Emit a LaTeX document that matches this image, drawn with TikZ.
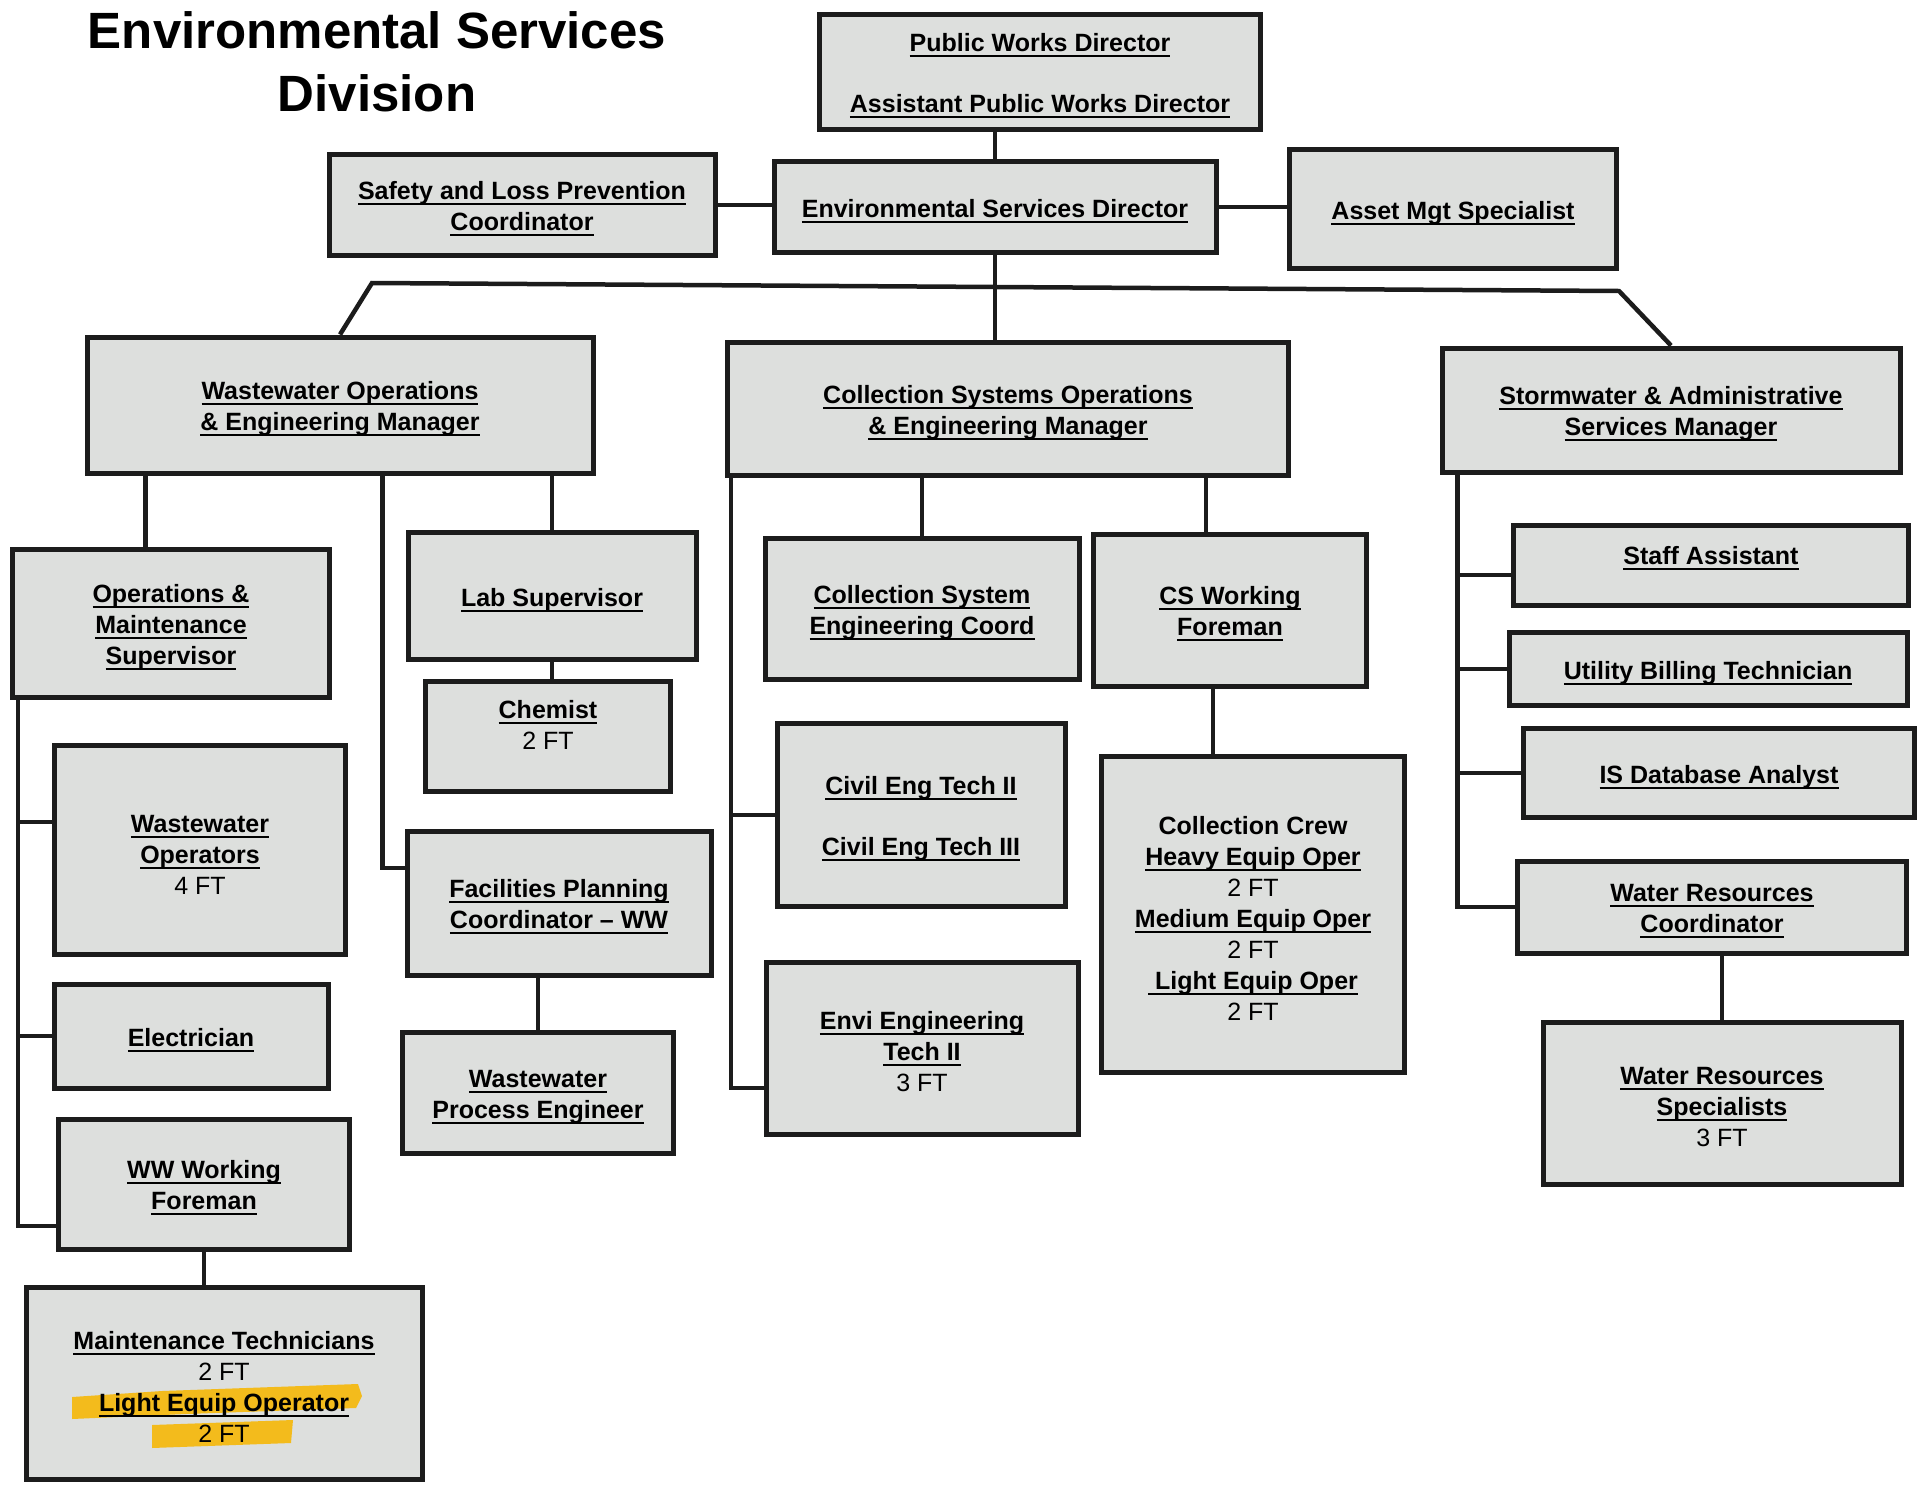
\documentclass[tikz,border=0pt]{standalone}
\usepackage{fontspec}
\setmainfont{Liberation Sans}
\usetikzlibrary{calc}

\definecolor{boxgray}{RGB}{221,223,221}
\definecolor{edge}{RGB}{28,28,28}
\definecolor{marker}{RGB}{243,187,28}

% underline at a fixed depth, as in the chart
\newcommand{\udl}[1]{\leavevmode\setbox0=\hbox{#1}\rlap{\rule[-5.5pt]{\wd0}{2pt}}\box0}
\newcommand{\ft}[1]{{\mdseries #1 FT}}
% taller first line, so the text sits a little low in its box
\newcommand{\fst}{\rule{0pt}{26pt}}

\tikzstyle{block} = [ draw=edge,fill=boxgray,line width=5pt,align=center,
                      inner sep=0pt,font=\fontsize{25}{31}\selectfont\bfseries]
\tikzstyle{link} = [draw=edge,line width=4.5pt]

\begin{document}
\begin{tikzpicture}[x=1pt,y=-1pt]
  \useasboundingbox (0,0) rectangle (1923,1486);

  \node[align=center,font=\fontsize{51}{63}\selectfont\bfseries] at (377,62) (title)
       {Environmental Services\\Division};

  % top level
  \node[block,minimum width=441pt,minimum height=115pt] at (1040,72) (pwd)
       {\fst\udl{Public Works Director}\\[30pt]\udl{Assistant Public Works Director}};
  \node[block,minimum width=386pt,minimum height=101pt] at (522,205) (safety)
       {\fst\udl{Safety and Loss Prevention}\\\udl{Coordinator}};
  \node[block,minimum width=442pt,minimum height=91pt] at (995,207) (esd)
       {\fst\udl{Environmental Services Director}};
  \node[block,minimum width=327pt,minimum height=119pt] at (1453,209) (asset)
       {\fst\udl{Asset Mgt Specialist}};

  % managers
  \node[block,minimum width=506pt,minimum height=136pt] at (340,405) (wwm)
       {\fst\udl{Wastewater Operations}\\\udl{\& Engineering Manager}};
  \node[block,minimum width=561pt,minimum height=133pt] at (1008,409) (csm)
       {\fst\udl{Collection Systems Operations}\\\udl{\& Engineering Manager}};
  \node[block,minimum width=458pt,minimum height=124pt] at (1671,410) (swm)
       {\fst\udl{Stormwater \& Administrative}\\\udl{Services Manager}};

  % wastewater
  \node[block,minimum width=317pt,minimum height=148pt] at (171,623) (oms)
       {\fst\udl{Operations \&}\\\udl{Maintenance}\\\udl{Supervisor}};
  \node[block,minimum width=288pt,minimum height=127pt] at (552,596) (lab)
       {\fst\udl{Lab Supervisor}};
  \node[block,minimum width=245pt,minimum height=110pt] at (548,736) (chem)
       {\fst\udl{Chemist}\\\ft{2}\\~};
  \node[block,minimum width=291pt,minimum height=209pt] at (200,850) (wwo)
       {\fst\udl{Wastewater}\\\udl{Operators}\\\ft{4}};
  \node[block,minimum width=304pt,minimum height=144pt] at (559,903) (fpc)
       {\fst\udl{Facilities Planning}\\\udl{Coordinator \textendash{} WW}};
  \node[block,minimum width=274pt,minimum height=104pt] at (191,1036) (elec)
       {\fst\udl{Electrician}};
  \node[block,minimum width=271pt,minimum height=121pt] at (538,1093) (wpe)
       {\fst\udl{Wastewater}\\\udl{Process Engineer}};
  \node[block,minimum width=291pt,minimum height=130pt] at (204,1184) (wwf)
       {\fst\udl{WW Working}\\\udl{Foreman}};
  \node[block,minimum width=396pt,minimum height=192pt,path picture={
         \fill[marker] ($(path picture bounding box.center)+(-152,14)$)
           -- ++(90,-6) -- ++(196,-7) -- ++(4,12) -- ++(-6,12)
           -- ++(-170,6) -- ++(-114,5) -- cycle;
         \fill[marker] ($(path picture bounding box.center)+(-72,42)$)
           -- ++(141,-5) -- ++(-2,23) -- ++(-139,5) -- cycle;}]
       at (224,1383) (mt)
       {\fst\udl{Maintenance Technicians}\\\ft{2}\\\udl{Light Equip Operator}\\\ft{2}};

  % collection systems
  \node[block,minimum width=314pt,minimum height=141pt] at (922,609) (cse)
       {\fst\udl{Collection System}\\\udl{Engineering Coord}};
  \node[block,minimum width=273pt,minimum height=152pt] at (1230,610) (csf)
       {\fst\udl{CS Working}\\\udl{Foreman}};
  \node[block,minimum width=288pt,minimum height=183pt] at (921,815) (cet)
       {\fst\udl{Civil Eng Tech II}\\[30pt]\udl{Civil Eng Tech III}};
  \node[block,minimum width=303pt,minimum height=316pt] at (1253,914) (crew)
       {\fst Collection Crew\\\udl{Heavy Equip Oper}\\\ft{2}\\\udl{Medium Equip Oper}\\\ft{2}\\
        \udl{~Light Equip Oper}\\\ft{2}};
  \node[block,minimum width=312pt,minimum height=172pt] at (922,1048) (envi)
       {\fst\udl{Envi Engineering}\\\udl{Tech II}\\\ft{3}};

  % stormwater
  \node[block,minimum width=395pt,minimum height=80pt] at (1711,565) (staff)
       {\fst\udl{Staff Assistant}\\[-4pt]~};
  \node[block,minimum width=398pt,minimum height=73pt] at (1708,669) (ubt)
       {\fst\udl{Utility Billing Technician}};
  \node[block,minimum width=391pt,minimum height=89pt] at (1719,773) (isd)
       {\fst\udl{IS Database Analyst}};
  \node[block,minimum width=389pt,minimum height=92pt] at (1712,907) (wrc)
       {\fst\udl{Water Resources}\\\udl{Coordinator}};
  \node[block,minimum width=358pt,minimum height=162pt] at (1722,1103) (wrs)
       {\fst\udl{Water Resources}\\\udl{Specialists}\\\ft{3}};

  % top connectors
  \draw[link] (esd.north) -- (esd.north |- pwd.south);
  \draw[link] (safety.east) -- (safety.east -| esd.west);
  \draw[link] (esd.east) -- (esd.east -| asset.west);
  \coordinate (barL) at (372,283);
  \coordinate (barR) at (1619,291);
  \draw[link] (esd.south) -- (esd.south |- csm.north);
  \draw[link] (wwm.north) -- (barL) -- (barR) -- (swm.north);

  % wastewater connectors
  \coordinate (wwL) at ($(wwm.south west)+(61,0)$);
  \draw[link] (wwL) -- (wwL |- oms.north);
  \coordinate (wwM) at ($(wwm.south west)+(298,0)$);
  \draw[link] (wwM) |- ($(fpc.west)+(0,-35)$);
  \draw[link] (lab.north) -- (lab.north |- wwm.south);
  \draw[link] (lab.south) -- (lab.south |- chem.north);
  \coordinate (omsBus) at ($(oms.south west)+(8,0)$);
  \draw[link] (omsBus) |- ($(wwf.west)+(0,42)$);
  \coordinate (wwoIn) at ($(wwo.west)+(0,-28)$);
  \draw[link] (wwoIn) -- (wwoIn -| omsBus);
  \draw[link] (elec.west) -- (elec.west -| omsBus);
  \draw[link] (wwf.south) -- (wwf.south |- mt.north);
  \draw[link] (wpe.north) -- (wpe.north |- fpc.south);

  % collection connectors
  \coordinate (csBus) at ($(csm.south west)+(6,0)$);
  \draw[link] (csBus) |- ($(envi.west)+(0,40)$);
  \draw[link] (cet.west) -- (cet.west -| csBus);
  \draw[link] (cse.north) -- (cse.north |- csm.south);
  \coordinate (csfTop) at ($(csf.north)+(-24,0)$);
  \draw[link] (csfTop) -- (csfTop |- csm.south);
  \coordinate (crewTop) at ($(crew.north)+(-40,0)$);
  \draw[link] (crewTop) -- (crewTop |- csf.south);

  % stormwater connectors
  \coordinate (swBus) at ($(swm.south west)+(18,0)$);
  \draw[link] (swBus) |- (wrc.west);
  \coordinate (staffIn) at ($(staff.west)+(0,10)$);
  \draw[link] (staffIn) -- (staffIn -| swBus);
  \foreach \n in {ubt,isd}
    \draw[link] (\n.west) -- (\n.west -| swBus);
  \draw[link] (wrs.north) -- (wrs.north |- wrc.south);
\end{tikzpicture}
\end{document}
